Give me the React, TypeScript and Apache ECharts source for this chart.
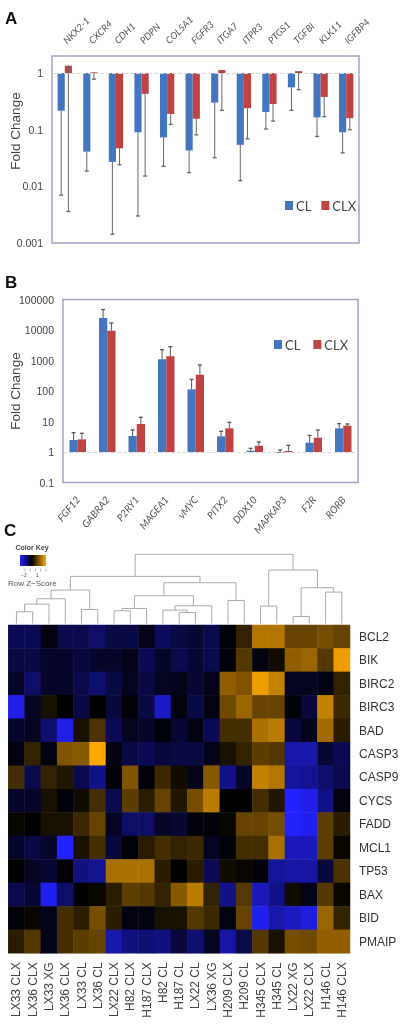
import React, { useEffect, useRef } from "react";
import * as echarts from "echarts";

const BLUE = "#4476c0";
const RED = "#bf4343";

// Panel A
const genesA = ["NKX2-1", "CXCR4", "CDH1", "PDPN", "COL5A1", "FGFR3", "ITGA7", "ITPR3", "PTGS1", "TGFBI", "KLK11", "IGFBP4"];
const clA = [0.216, 0.041, 0.027, 0.09, 0.073, 0.043, 0.3, 0.054, 0.205, 0.56, 0.165, 0.09];
const clxA = [1.35, 1.03, 0.047, 0.43, 0.19, 0.156, 1.13, 0.24, 0.284, 1.08, 0.377, 0.16];
const clLowA = [0.007, 0.0186, 0.00143, 0.003, 0.0226, 0.0175, 0.032, 0.0126, 0.103, 0.22, 0.076, 0.039];
const clxLowA = [0.0036, 0.78, 0.024, 0.0152, 0.124, 0.081, 0.22, 0.069, 0.142, 0.51, 0.17, 0.1];
const ticksA = ["1", "0.1", "0.01", "0.001"];

// Panel B
const genesB = ["FGF12", "GABRA2", "P2RY1", "MAGEA1", "vMYC", "PITX2", "DDX10", "MAPKAP3", "F2R", "RORB"];
const clB = [2.47, 24800, 3.35, 1090, 113, 3.26, 1.1, 0.93, 2.02, 5.97];
const clxB = [2.6, 9500, 8.3, 1370, 343, 5.97, 1.6, 1.08, 2.95, 7.3];
const clHighB = [4.3, 47000, 5.3, 2260, 240, 4.76, 1.32, 1.16, 3.5, 8.5];
const clxHighB = [4.1, 17000, 13.7, 2840, 710, 9.4, 2.13, 1.65, 5.25, 8.3];
const ticksB = ["0.1", "1", "10", "100", "1000", "10000", "100000"];

// Panel C
const samples = ["LX33 CLX", "LX36 CLX", "LX33 XG", "LX36 CLX", "LX33 CL", "LX36 CL", "LX22 CLX", "H82 CLX", "H187 CLX", "H82 CL", "H187 CL", "LX22 CL", "LX36 XG", "H209 CLX", "H209 CL", "H345 CLX", "H345 CL", "LX22 XG", "LX22 CLX", "H146 CL", "H146 CLX"];
const heatGenes = ["BCL2", "BIK", "BIRC2", "BIRC3", "BAD", "CASP3", "CASP9", "CYCS", "FADD", "MCL1", "TP53", "BAX", "BID", "PMAIP"];
const BCL2 = [-1, -1, -0.2, -0.9, -0.9, -1.2, -0.8, -0.8, -0.3, -1.1, -0.8, -0.6, -0.9, -0.1, 0.6, 2.1, 2.1, 1.2, 1.2, 1.4, 1.2];
const BIK = [-0.8, -0.8, -0.5, -0.5, -0.7, -0.5, -0.5, -0.3, -1, -0.5, -0.9, -0.6, -0.9, -0.1, 1, -0.2, 0.2, 1.7, 1.8, 1, 2.8];
const BIRC2 = [-0.5, -1.2, -0.5, -0.5, -0.9, -1.3, -0.8, -0.4, -0.8, -0.4, -0.3, -0.6, -0.3, 1.7, 1.5, 2.8, 2.3, -0.4, -0.4, -0.2, 0.6];
const BIRC3 = [-2.7, -0.4, 0.3, 0, -0.8, 0, -0.7, -0.1, -0.8, -2.3, -0.2, -0.8, -0.2, 1.3, 1.8, 1.2, 1.2, -0.1, -0.7, 2.3, 0.7];
const BAD = [-0.5, -0.4, -1.3, -2.7, 0.3, 0.9, -1, -0.4, -0.5, -0.1, -0.6, -0.2, -1, 0.8, 0.8, 2, 2.2, -0.7, -0.3, 1.9, 0.5];
const CASP3 = [-0.2, 0.6, -0.2, 1.5, 1.6, 3, -0.2, -0.8, -1, -0.7, -0.8, -0.8, -0.3, 0.3, 0.6, 1.1, 1, -2, -2, -0.6, -1];
const CASP9 = [0.8, -0.9, 0.6, 0.4, -0.9, -1.6, -0.1, 1.5, -0.1, 0.7, 0.2, -0.3, 1.6, -1.6, -0.5, 2.3, 2.1, -1.8, -1.7, -1.3, -0.9];
const CYCS = [-0.5, -0.5, 0.3, -0.1, 0.2, 0.8, -0.9, 1.1, 0.5, 1.2, 0.4, 1.4, 2.2, 0, 0, 0.8, 0.4, -3, -2.7, -1.6, -0.2];
const FADD = [0.1, 0, 0.3, 0.3, 0.7, 1.2, -0.4, -1.2, -1.2, -0.5, -0.6, -0.1, -0.1, 0.1, 1.2, 1.2, 1.4, -3, -2.8, 1.1, 0.5];
const MCL1 = [-0.5, -0.8, -0.5, -3, 0.3, 0.8, -0.7, -0.1, 0.5, 0.8, 0.6, 0.7, -0.4, -0.1, 0.8, 0.8, 2, -2.2, -2.2, 1.1, 0.1];
const TP53 = [0, -0.4, -0.6, 0, -1.5, -1.7, 2, 2, 2, 0.5, 0, 0.5, -1, 0.2, 0.1, -0.1, -1.8, -1.9, -1.9, -0.7, 0.9];
const BAX = [-0.9, -0.6, -2.8, -1.2, 0, 0.1, 0.5, 1.1, 1, 0.6, 1.6, 2.2, 0.6, -1.6, 1, -2.2, -1.6, 0.2, -0.3, 1, 0.1];
const BID = [-0.1, 0.1, -0.3, 0.8, 0.5, 1.4, 0.5, -0.2, -0.2, 0.3, 0.3, 1, 0.7, -0.2, 1.2, -2.8, -2, -2.3, -2.6, 1.8, 0.6];
const PMAIP = [0.5, 1, -0.3, 0.8, 1.1, 1.2, -2, -1.5, -1.4, -1.5, -0.7, -1.3, -0.4, -1.9, -0.9, 1, 0.3, 1.4, 1.3, 1.7, 1.7];
const heatRows = [BCL2, BIK, BIRC2, BIRC3, BAD, CASP3, CASP9, CYCS, FADD, MCL1, TP53, BAX, BID, PMAIP];

// Dendrogram merges: [left, right, height]; a number below 21 is a leaf column, "mN" is an earlier merge
const merges: [number | string, number | string, number][] = [
  [0, 1, 35], ["m0", 2, 58], ["m1", 3, 74], [4, 5, 42], ["m2", "m3", 100],
  [6, 7, 38], ["m5", 8, 45], [10, 11, 33], [9, "m7", 40], ["m8", 12, 53],
  ["m6", "m9", 83], [13, 14, 69], ["m10", "m11", 122], ["m4", "m12", 141],
  [15, 16, 52], [17, 18, 21], [19, 20, 94], ["m15", "m16", 107],
  ["m14", "m17", 160], ["m13", "m18", 207],
];

function buildDendrogram() {
  const nodes: { x: number; h: number }[] = [];
  const get = (k: number | string) =>
    typeof k === "number" ? { x: k + 0.5, h: 0 } : nodes[Number(k.slice(1))];
  return merges.map(([a, b, h]) => {
    const l = get(a);
    const r = get(b);
    nodes.push({ x: (l.x + r.x) / 2, h });
    return [l.x, l.h, r.x, r.h, h];
  });
}

function errorSeries(name: string, xAxisIndex: number, yAxisIndex: number, side: number, vals: number[], ends: number[], color: string) {
  return {
    type: "custom",
    name,
    xAxisIndex,
    yAxisIndex,
    z: 5,
    silent: true,
    clip: false,
    data: vals.map((v, i) => [i, v, ends[i]]),
    encode: { x: 0, y: [1, 2] },
    renderItem: (_: any, api: any) => {
      const band = api.size([1, 1])[0];
      const a = api.coord([api.value(0), api.value(1)]);
      const b = api.coord([api.value(0), api.value(2)]);
      const x = a[0] + side * band * 0.14;
      const style = { stroke: color, lineWidth: 1, fill: "none" };
      return {
        type: "group",
        children: [
          { type: "line", shape: { x1: x, y1: a[1], x2: x, y2: b[1] }, style },
          { type: "line", shape: { x1: x - 2, y1: b[1], x2: x + 2, y2: b[1] }, style: { ...style, lineWidth: 1.3 } },
        ],
      };
    },
  };
}

function barSeries(name: string, color: string, xAxisIndex: number, yAxisIndex: number, data: number[], line: boolean) {
  return {
    type: "bar",
    name,
    xAxisIndex,
    yAxisIndex,
    data,
    barWidth: "28%",
    barGap: 0,
    itemStyle: { color },
    markLine: line
      ? {
          silent: true,
          symbol: "none",
          label: { show: false },
          lineStyle: { color: "#dcd6dc", type: "dashed", width: 1 },
          data: [{ yAxis: 1 }],
        }
      : undefined,
  };
}

const decadeLabel = (labels: string[]) => (v: number) => {
  const hit = labels.find((l) => Math.abs(Math.log10(Number(l)) - Math.log10(v)) < 1e-6);
  return hit ?? "";
};

const frame = { show: true, borderColor: "#a3a3c6", borderWidth: 1.5, backgroundColor: "transparent", outerBoundsMode: "none" };
const FONT = "Liberation Sans";

function yAxisFor(gridIndex: number, min: number, max: number, labels: string[]) {
  return {
    type: "log",
    gridIndex,
    min,
    max,
    logBase: 10,
    axisLine: { show: false },
    axisTick: { show: false },
    splitLine: { show: false },
    minorTick: { show: false },
    axisLabel: { formatter: decadeLabel(labels), showMaxLabel: true, showMinLabel: true, fontFamily: FONT, fontSize: 10.5, color: "#444", margin: 9 },
  };
}

const axisTitle = (y: number) => ({
  type: "text",
  x: 15.5,
  y,
  rotation: Math.PI / 2,
  style: { text: "Fold Change", align: "center", verticalAlign: "middle", fontFamily: FONT, fontSize: 13.5, fill: "#444" },
});

function App() {
  const ref = useRef<HTMLDivElement>(null);
  useEffect(() => {
    document.body.style.margin = "0";
    const chart = echarts.init(ref.current!, undefined, { renderer: "svg" });
    const heatData: number[][] = [];
    heatRows.forEach((row, r) => row.forEach((v, c) => heatData.push([c, r, v])));
    const legendBase = {
      data: ["CL", "CLX"],
      itemWidth: 8,
      itemHeight: 9,
      icon: "rect",
      selectedMode: false,
      padding: 0,
      textStyle: { fontFamily: "Lato", fontSize: 13, color: "#444", padding: [0, 0, 0, -2] },
    };
    const keyTicks = [0.1, 0.3, 0.5, 0.7, 0.9].map((f) => ({
      type: "line",
      left: 20 + 26 * f,
      top: 566,
      shape: { x1: 0, y1: 0, x2: 0, y2: 3 },
      style: { stroke: "#999", lineWidth: 0.7 },
    }));
    chart.setOption({
      animation: false,
      backgroundColor: "#fff",
      grid: [
        { left: 52, top: 56, width: 307, height: 187, ...frame },
        { left: 63, top: 299.5, width: 295, height: 183, ...frame },
        { left: 8.3, top: 625, width: 341.7, height: 328.3, show: false, outerBoundsMode: "none" },
        { left: 8.3, top: 550, width: 341.7, height: 73.5, show: false, outerBoundsMode: "none" },
      ],
      xAxis: [
        {
          type: "category", gridIndex: 0, position: "top", data: genesA,
          axisLine: { show: false }, axisTick: { show: false },
          axisLabel: { interval: 0, rotate: -45, margin: 14, fontFamily: "Lato", fontStyle: "italic", fontSize: 9.5, color: "#555" },
        },
        {
          type: "category", gridIndex: 1, position: "bottom", data: genesB,
          axisLine: { show: false }, axisTick: { show: false },
          axisLabel: { interval: 0, rotate: 50, margin: 15, fontFamily: "Lato", fontStyle: "italic", fontSize: 10, color: "#555" },
        },
        {
          type: "category", gridIndex: 2, position: "bottom", data: samples,
          axisLine: { show: false }, axisTick: { show: false }, splitArea: { show: false },
          axisLabel: { interval: 0, rotate: 90, margin: 9, fontFamily: FONT, fontSize: 12, color: "#444" },
        },
        { type: "value", gridIndex: 3, min: 0, max: 21, show: false },
      ],
      yAxis: [
        yAxisFor(0, 0.001, 2, ticksA),
        yAxisFor(1, 0.1, 100000, ticksB),
        {
          type: "category", gridIndex: 2, position: "right", inverse: true, data: heatGenes,
          axisLine: { show: false }, axisTick: { show: false }, splitArea: { show: false },
          axisLabel: { interval: 0, margin: 9, fontFamily: FONT, fontSize: 12, color: "#333" },
        },
        { type: "value", gridIndex: 3, min: 0, max: 220, show: false },
      ],
      legend: [
        { ...legendBase, left: 285, top: 199, itemGap: 10 },
        { ...legendBase, left: 274, top: 338, itemGap: 13 },
      ],
      visualMap: {
        show: false,
        seriesIndex: 8,
        min: -3,
        max: 3,
        inRange: { color: ["#2222ff", "#000000", "#ffa800"] },
      },
      series: [
        barSeries("CL", BLUE, 0, 0, clA, true),
        barSeries("CLX", RED, 0, 0, clxA, false),
        errorSeries("errA1", 0, 0, -1, clA, clLowA, "#666"),
        errorSeries("errA2", 0, 0, 1, clxA, clxLowA, "#666"),
        barSeries("CL", BLUE, 1, 1, clB, true),
        barSeries("CLX", RED, 1, 1, clxB, false),
        errorSeries("errB1", 1, 1, -1, clB, clHighB, "#555"),
        errorSeries("errB2", 1, 1, 1, clxB, clxHighB, "#555"),
        {
          type: "heatmap",
          xAxisIndex: 2,
          yAxisIndex: 2,
          data: heatData,
          silent: true,
          itemStyle: { borderWidth: 0 },
        },
        {
          type: "custom",
          name: "dendrogram",
          xAxisIndex: 3,
          yAxisIndex: 3,
          silent: true,
          clip: false,
          data: buildDendrogram(),
          encode: { x: [0, 2], y: [1, 3, 4] },
          renderItem: (_: any, api: any) => {
            const h = api.value(4);
            const pts = [
              api.coord([api.value(0), api.value(1)]),
              api.coord([api.value(0), h]),
              api.coord([api.value(2), h]),
              api.coord([api.value(2), api.value(3)]),
            ];
            return { type: "polyline", shape: { points: pts }, style: { stroke: "#aaa", lineWidth: 1, fill: "none" } };
          },
        },
      ],
      graphic: [
        axisTitle(131),
        axisTitle(391),
        { type: "text", left: 5, top: 10, style: { text: "A", fontFamily: FONT, fontWeight: "bold", fontSize: 17, fill: "#111" } },
        { type: "text", left: 5, top: 274, style: { text: "B", fontFamily: FONT, fontWeight: "bold", fontSize: 17, fill: "#111" } },
        { type: "text", left: 4, top: 522, style: { text: "C", fontFamily: FONT, fontWeight: "bold", fontSize: 17, fill: "#111" } },
        { type: "text", left: 15.5, top: 544, style: { text: "Color Key", fontFamily: FONT, fontWeight: "bold", fontSize: 7, fill: "#444" } },
        {
          type: "rect",
          left: 20,
          top: 555,
          shape: { width: 26, height: 11 },
          style: {
            fill: new echarts.graphic.LinearGradient(0, 0, 1, 0, [
              { offset: 0, color: "#2222ff" },
              { offset: 0.45, color: "#000000" },
              { offset: 1, color: "#ffa800" },
            ]),
          },
        },
        ...keyTicks,
        { type: "text", left: 21, top: 572, style: { text: "−2", fontFamily: FONT, fontSize: 5, fill: "#555" } },
        { type: "text", left: 36, top: 572, style: { text: "1", fontFamily: FONT, fontSize: 5, fill: "#555" } },
        { type: "text", left: 8, top: 579, style: { text: "Row Z−Score", fontFamily: FONT, fontSize: 8, fill: "#555" } },
      ],
    });
    return () => chart.dispose();
  }, []);
  return (
    <div
      ref={ref}
      style={{ position: "absolute", left: 0, top: 0, width: 400, height: 1027, filter: "blur(0.45px)" }}
    />
  );
}

export default App;
